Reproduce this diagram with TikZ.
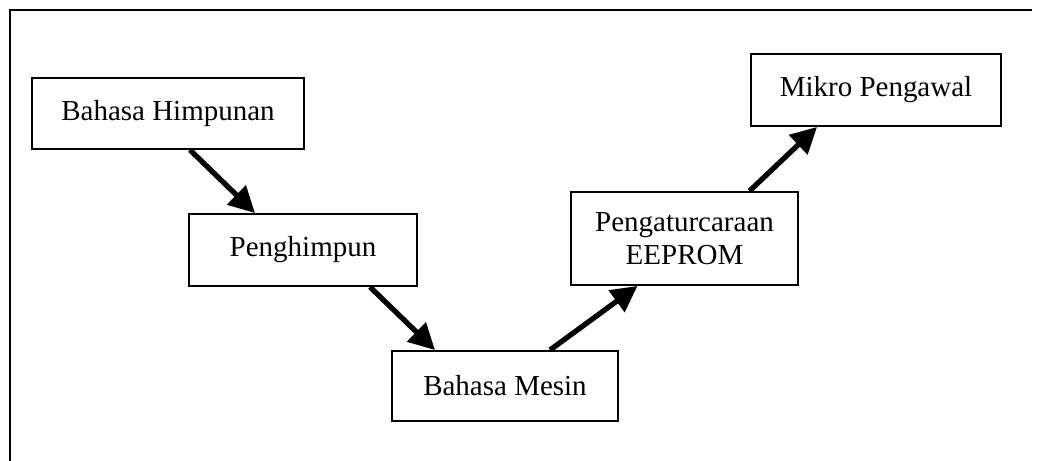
\documentclass[tikz,border=0pt]{standalone}
\usepackage{fontspec}
\setmainfont{Liberation Serif}
\usetikzlibrary{arrows.meta}
\begin{document}
\begin{tikzpicture}[thick,
    blok/.style={draw, line width=1.1pt, align=center, inner sep=0pt,
                 font=\fontsize{16.5}{19}\selectfont},
    panah/.style={line width=3pt, -{Triangle[length=0.52cm,width=0.52cm]}}]

    \useasboundingbox (0,0) rectangle (20.74,9.22);

    % Bingkai
    \draw[line width=1.2pt] (0.2,0) |- (20.64,9.02);

    % Kotak-kotak
    \node[blok, minimum width=5.44cm, minimum height=1.42cm] (himpunan) at (3.36,6.95) {Bahasa Himpunan};
    \node[blok, minimum width=4.56cm, minimum height=1.44cm] (penghimpun) at (6.06,4.22) {Penghimpun};
    \node[blok, minimum width=4.52cm, minimum height=1.40cm] (mesin) at (10.1,1.5) {Bahasa Mesin};
    \node[blok, minimum width=4.54cm, minimum height=1.86cm] (eeprom) at (13.69,4.45) {Pengaturcaraan\\EEPROM};
    \node[blok, minimum width=5.0cm, minimum height=1.44cm] (mikro) at (17.52,7.42) {Mikro Pengawal};

    % Anak panah
    \draw[panah] ([xshift=0.44cm]himpunan.south) -- ([xshift=-0.96cm]penghimpun.north);
    \draw[panah] ([xshift=1.34cm]penghimpun.south) -- ([xshift=-1.4cm]mesin.north);
    \draw[panah] ([xshift=0.9cm]mesin.north) -- ([xshift=-0.94cm]eeprom.south);
    \draw[panah] ([xshift=1.3cm]eeprom.north) -- ([xshift=-1.18cm]mikro.south);
\end{tikzpicture}
\end{document}
